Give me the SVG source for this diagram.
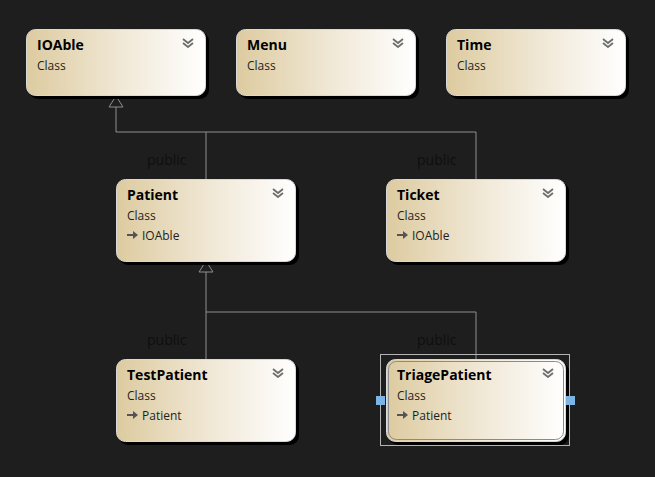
<svg xmlns="http://www.w3.org/2000/svg" width="655" height="477" viewBox="0 0 655 477">
<defs>
<linearGradient id="g" x1="0" y1="0" x2="1" y2="0">
<stop offset="0" stop-color="#ddcba0"/>
<stop offset="0.55" stop-color="#f1e9d8"/>
<stop offset="1" stop-color="#ffffff"/>
</linearGradient>
<symbol id="chev" viewBox="0 0 12 10">
<polyline points="1,1 6,5 11,1" fill="none" stroke="#6e6e6e" stroke-width="1.8"/>
<polyline points="1,5 6,9 11,5" fill="none" stroke="#6e6e6e" stroke-width="1.8"/>
</symbol>
<symbol id="inh" viewBox="0 0 12 10">
<path d="M0,4 H6 V1 L11,5 L6,9 V6 H0 Z" fill="#555"/>
</symbol>
</defs>
<style>
.shadow{fill:#000}
.box{fill:url(#g);stroke:#d8d8d8;stroke-width:1}
.title{font-family:"Open Sans","Noto Sans",sans-serif;font-weight:bold;font-size:14px;fill:#000}
.sub{font-family:"Open Sans","Noto Sans",sans-serif;font-size:12px;fill:#1e1e1e}
.lbl{font-family:"Open Sans","Noto Sans",sans-serif;font-size:14px;fill:#0e0e0e}
.conn{fill:none;stroke:#8e8e8e;stroke-width:1}
.tri{fill:#1e1e1e;stroke:#8e8e8e;stroke-width:1}
</style>
<rect width="655" height="477" fill="#1e1e1e"/>

<g id="connectors">
<polyline class="conn" points="116,107 116,132 476,132 476,179"/>
<line class="conn" x1="206" y1="132" x2="206" y2="179"/>
<polygon class="tri" points="116,96 109,107 123,107"/>
<polyline class="conn" points="206,272 206,312 476,312 476,359"/>
<line class="conn" x1="206" y1="312" x2="206" y2="359"/>
<polygon class="tri" points="206,261 199,272 213,272"/>
<text class="lbl" x="147" y="165">public</text>
<text class="lbl" x="417" y="165">public</text>
<text class="lbl" x="147" y="345">public</text>
<text class="lbl" x="417" y="345">public</text>
</g>

<g id="IOAble">
<rect class="shadow" x="29" y="32" width="180" height="67" rx="9"/>
<rect class="box" x="26.5" y="29.5" width="179" height="66" rx="9"/>
<text class="title" x="37" y="50">IOAble</text>
<text class="sub" x="37" y="70">Class</text>
<use href="#chev" x="182" y="38" width="12" height="10"/>
</g>
<g id="Menu">
<rect class="shadow" x="239" y="32" width="180" height="67" rx="9"/>
<rect class="box" x="236.5" y="29.5" width="179" height="66" rx="9"/>
<text class="title" x="247" y="50">Menu</text>
<text class="sub" x="247" y="70">Class</text>
<use href="#chev" x="392" y="38" width="12" height="10"/>
</g>
<g id="Time">
<rect class="shadow" x="449" y="32" width="180" height="67" rx="9"/>
<rect class="box" x="446.5" y="29.5" width="179" height="66" rx="9"/>
<text class="title" x="457" y="50">Time</text>
<text class="sub" x="457" y="70">Class</text>
<use href="#chev" x="602" y="38" width="12" height="10"/>
</g>

<g id="Patient">
<rect class="shadow" x="119" y="182" width="180" height="83" rx="9"/>
<rect class="box" x="116.5" y="179.5" width="179" height="82" rx="9"/>
<text class="title" x="127" y="200">Patient</text>
<text class="sub" x="127" y="220">Class</text>
<use href="#inh" x="127" y="230" width="12" height="10"/>
<text class="sub" x="142" y="240">IOAble</text>
<use href="#chev" x="272" y="188" width="12" height="10"/>
</g>
<g id="Ticket">
<rect class="shadow" x="389" y="182" width="180" height="83" rx="9"/>
<rect class="box" x="386.5" y="179.5" width="179" height="82" rx="9"/>
<text class="title" x="397" y="200">Ticket</text>
<text class="sub" x="397" y="220">Class</text>
<use href="#inh" x="397" y="230" width="12" height="10"/>
<text class="sub" x="412" y="240">IOAble</text>
<use href="#chev" x="542" y="188" width="12" height="10"/>
</g>

<g id="TestPatient">
<rect class="shadow" x="119" y="362" width="180" height="83" rx="9"/>
<rect class="box" x="116.5" y="359.5" width="179" height="82" rx="9"/>
<text class="title" x="127" y="380">TestPatient</text>
<text class="sub" x="127" y="400">Class</text>
<use href="#inh" x="127" y="410" width="12" height="10"/>
<text class="sub" x="142" y="420">Patient</text>
<use href="#chev" x="272" y="368" width="12" height="10"/>
</g>
<g id="TriagePatient">
<rect x="380.5" y="354.5" width="189" height="91" fill="none" stroke="#b4b4b4" stroke-width="1"/>
<rect class="shadow" x="389" y="362" width="180" height="83" rx="9"/>
<rect class="box" x="386.5" y="359.5" width="179" height="82" rx="9"/>
<rect x="388.5" y="361.5" width="175" height="78" rx="8" fill="none" stroke="#8a8a8a" stroke-width="1"/>
<text class="title" x="397" y="380">TriagePatient</text>
<text class="sub" x="397" y="400">Class</text>
<use href="#inh" x="397" y="410" width="12" height="10"/>
<text class="sub" x="412" y="420">Patient</text>
<use href="#chev" x="542" y="368" width="12" height="10"/>
<rect x="376" y="396" width="9" height="9" fill="#7cb4e6"/>
<rect x="566" y="396" width="9" height="9" fill="#7cb4e6"/>
</g>
</svg>
